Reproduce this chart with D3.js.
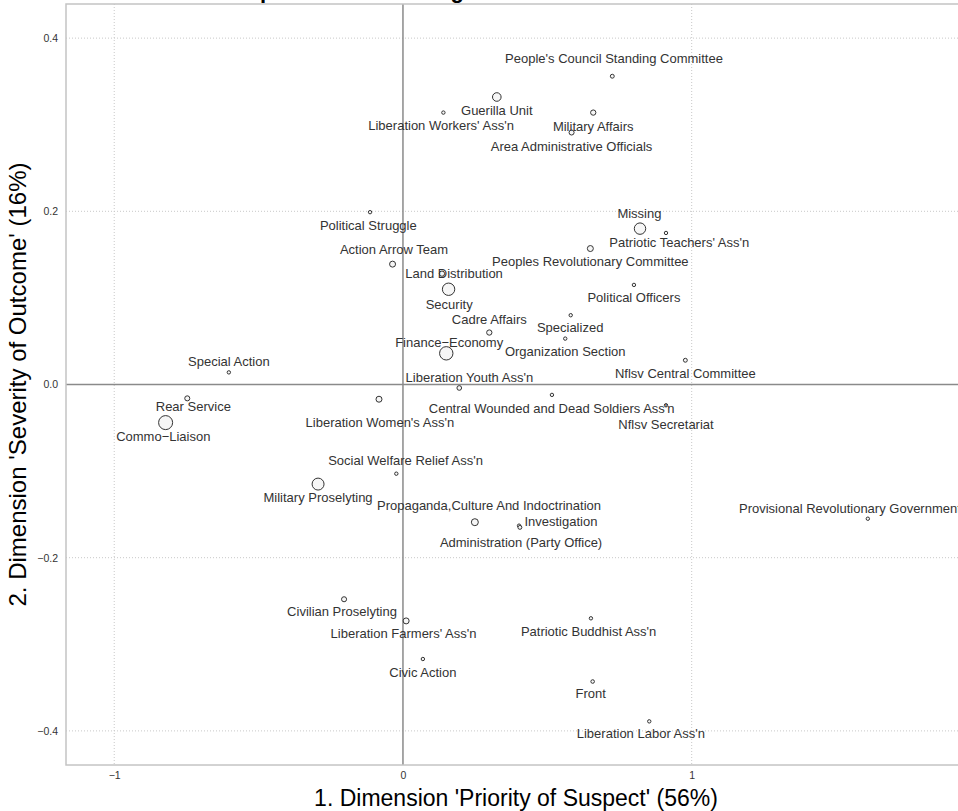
<!DOCTYPE html>
<html>
<head>
<script src="https://d3js.org/d3.v7.min.js"></script>
<style>
  body { margin: 0; background: #ffffff; }
  svg { display: block; font-family: "Liberation Sans", Arial, sans-serif; }
  .grid line { stroke: #c8c8c8; stroke-width: 1; stroke-dasharray: 1,2; }
  .zero { stroke: #8a8a8a; stroke-width: 1.5; }
  .pt { fill: #f6f6f6; stroke: #333333; stroke-width: 1; }
  .lab { font-size: 13px; fill: #333333; }
  .tick-lab { font-size: 10.5px; fill: #333333; }
</style>
</head>
<body>
<div id="chart"></div>
<script>
// organisation categories
var categories = [
  "People's Council Standing Committee", "Guerilla Unit", "Liberation Workers' Ass'n",
  "Military Affairs", "Area Administrative Officials", "Political Struggle",
  "Action Arrow Team", "Land Distribution", "Security", "Cadre Affairs",
  "Finance\u2212Economy", "Specialized", "Organization Section", "Missing",
  "Patriotic Teachers' Ass'n", "Peoples Revolutionary Committee", "Political Officers",
  "Nflsv Central Committee", "Liberation Youth Ass'n", "Central Wounded and Dead Soldiers Ass'n",
  "Nflsv Secretariat", "Liberation Women's Ass'n", "Social Welfare Relief Ass'n",
  "Military Proselyting", "Propaganda,Culture And Indoctrination", "Investigation",
  "Administration  (Party Office)", "Provisional Revolutionary Government",
  "Civilian Proselyting", "Liberation Farmers' Ass'n", "Civic Action",
  "Patriotic Buddhist Ass'n", "Front", "Liberation Labor Ass'n", "Special Action",
  "Rear Service", "Commo\u2212Liaison"
];

// coordinates on dimension 1 and dimension 2
var dim1 = [
  0.725, 0.325, 0.140, 0.659, 0.584, -0.114, -0.036, 0.135, 0.158, 0.299,
  0.150, 0.581, 0.562, 0.821, 0.911, 0.649, 0.800, 0.978, 0.195, 0.516,
  0.911, -0.083, -0.023, -0.294, 0.249, 0.402, 0.405, 1.610, -0.204, 0.011,
  0.069, 0.651, 0.657, 0.853, -0.603, -0.747, -0.822
];
var dim2 = [
  0.356, 0.332, 0.314, 0.314, 0.291, 0.199, 0.139, 0.128, 0.110, 0.060,
  0.036, 0.080, 0.053, 0.180, 0.175, 0.157, 0.115, 0.028, -0.004, -0.012,
  -0.024, -0.017, -0.103, -0.115, -0.159, -0.163, -0.165, -0.155, -0.248, -0.273,
  -0.317, -0.270, -0.343, -0.389, 0.014, -0.016, -0.044
];

// relative mass (%) of each category
var mass = [
  0.6, 2.9, 0.45, 1.1, 1.0, 0.45, 1.4, 1.1, 6.0, 1.1,
  7.0, 0.45, 0.45, 5.1, 0.45, 1.4, 0.45, 0.6, 0.85, 0.45,
  0.45, 1.4, 0.45, 5.6, 1.9, 0.45, 0.6, 0.45, 1.0, 1.4,
  0.45, 0.45, 0.5, 0.45, 0.45, 1.0, 7.7
];

// repelled label anchor coordinates
var labelDim1 = [
  0.731, 0.325, 0.132, 0.659, 0.584, -0.120, -0.031, 0.177, 0.160, 0.299,
  0.160, 0.579, 0.562, 0.819, 0.957, 0.649, 0.800, 0.978, 0.230, 0.515,
  0.911, -0.080, 0.009, -0.294, 0.298, 0.547, 0.409, 1.548, -0.211, 0.002,
  0.069, 0.643, 0.650, 0.824, -0.603, -0.726, -0.830
];
var labelDim2 = [
  0.376, 0.316, 0.299, 0.298, 0.275, 0.184, 0.156, 0.128, 0.093, 0.075,
  0.049, 0.066, 0.038, 0.198, 0.164, 0.142, 0.100, 0.013, 0.008, -0.028,
  -0.046, -0.044, -0.088, -0.130, -0.140, -0.158, -0.182, -0.143, -0.262, -0.287,
  -0.332, -0.285, -0.357, -0.403, 0.027, -0.025, -0.060
];

var xTicks = [-1, 0, 1];
var yTicks = [-0.4, -0.2, 0, 0.2, 0.4];
var xTickLabels = ["\u22121", "0", "1"];
var yTickLabels = ["\u22120.4", "\u22120.2", "0.0", "0.2", "0.4"];

var titleText = "Correspondence Plot: Organization";
var xTitle = "1. Dimension 'Priority of Suspect' (56%)";
var yTitle = "2. Dimension 'Severity of Outcome' (16%)";

var W = 958, H = 811;
var panel = { left: 66, right: 966, top: 4, bottom: 765 };

var x = d3.scaleLinear().domain([-1.167, 1.950]).range([panel.left, panel.right]);
var y = d3.scaleLinear().domain([-0.4394, 0.4394]).range([panel.bottom, panel.top]);
var r = d3.scaleSqrt().domain([0, 10]).range([0, 8]);

var svg = d3.select("#chart").append("svg")
  .attr("width", W)
  .attr("height", H);

// title, mostly cut off above the picture
svg.append("text")
  .attr("x", 189)
  .attr("y", -2)
  .style("font-size", "22px")
  .style("font-weight", "bold")
  .style("fill", "#000")
  .text(titleText);

var plot = svg.append("g");

// grid
var grid = plot.append("g").attr("class", "grid");
grid.selectAll("line.gx")
  .data(xTicks.filter(function(d) { return d !== 0; }))
  .enter().append("line")
  .attr("x1", function(d) { return x(d); })
  .attr("x2", function(d) { return x(d); })
  .attr("y1", panel.top)
  .attr("y2", panel.bottom);
grid.selectAll("line.gy")
  .data(yTicks.filter(function(d) { return d !== 0; }))
  .enter().append("line")
  .attr("x1", panel.left)
  .attr("x2", panel.right)
  .attr("y1", function(d) { return y(d); })
  .attr("y2", function(d) { return y(d); });

// zero lines
plot.append("line").attr("class", "zero")
  .attr("x1", x(0)).attr("x2", x(0))
  .attr("y1", panel.top).attr("y2", panel.bottom);
plot.append("line").attr("class", "zero")
  .attr("x1", panel.left).attr("x2", panel.right)
  .attr("y1", y(0)).attr("y2", y(0));

// panel border
plot.append("rect")
  .attr("x", panel.left)
  .attr("y", panel.top)
  .attr("width", panel.right - panel.left)
  .attr("height", panel.bottom - panel.top)
  .style("fill", "none")
  .style("stroke", "#c4c4c4")
  .style("stroke-width", 1.5);

// axes
var xAxis = d3.axisBottom(x).tickValues(xTicks)
  .tickFormat(function(d, i) { return xTickLabels[i]; })
  .tickSize(0).tickPadding(7);
var gx = svg.append("g")
  .attr("transform", "translate(0," + panel.bottom + ")")
  .call(xAxis);
gx.select(".domain").remove();
gx.selectAll("text").attr("class", "tick-lab").attr("font-size", null).attr("fill", null)
  .attr("font-family", null);

var yAxis = d3.axisLeft(y).tickValues(yTicks)
  .tickFormat(function(d, i) { return yTickLabels[i]; })
  .tickSize(0).tickPadding(8);
var gy = svg.append("g")
  .attr("transform", "translate(" + panel.left + ",0)")
  .call(yAxis);
gy.select(".domain").remove();
gy.selectAll("text").attr("class", "tick-lab").attr("font-size", null).attr("fill", null)
  .attr("font-family", null);

// axis titles
svg.append("text")
  .attr("x", (panel.left + panel.right) / 2)
  .attr("y", 798)
  .attr("dy", "0.35em")
  .style("text-anchor", "middle")
  .style("font-size", "23px")
  .style("fill", "#000")
  .text(xTitle);

svg.append("text")
  .attr("transform", "translate(18," + ((panel.top + panel.bottom) / 2) + ") rotate(-90)")
  .attr("dy", "0.35em")
  .style("text-anchor", "middle")
  .style("font-size", "24px")
  .style("fill", "#000")
  .text(yTitle);

// points
var rows = categories.map(function(c, i) {
  return { name: c, d1: dim1[i], d2: dim2[i], m: mass[i], l1: labelDim1[i], l2: labelDim2[i] };
});

plot.selectAll("circle.pt")
  .data(rows)
  .enter().append("circle")
  .attr("class", "pt")
  .attr("cx", function(d) { return x(d.d1); })
  .attr("cy", function(d) { return y(d.d2); })
  .attr("r", function(d) { return Math.max(1.7, r(d.m)); });

plot.selectAll("text.lab")
  .data(rows)
  .enter().append("text")
  .attr("class", "lab")
  .attr("x", function(d) { return x(d.l1); })
  .attr("y", function(d) { return y(d.l2); })
  .attr("dy", "0.35em")
  .style("text-anchor", "middle")
  .text(function(d) { return d.name; });
</script>
</body>
</html>
